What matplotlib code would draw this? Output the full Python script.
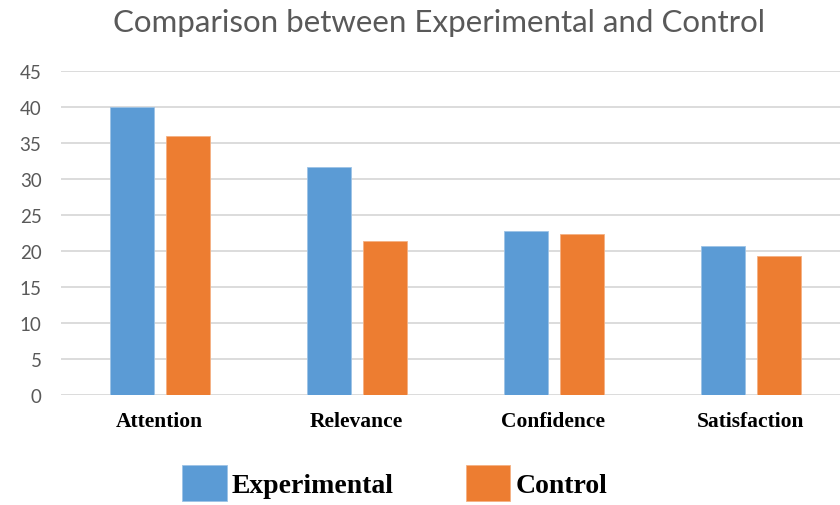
import numpy as np
import matplotlib
matplotlib.use('Agg')
import matplotlib.pyplot as plt

# datos
categorias = ['Attention', 'Relevance', 'Confidence', 'Satisfaction']
experimental = [40.0, 31.7, 22.8, 20.8]
control = [36.0, 21.5, 22.4, 19.3]

azul = '#5B9BD5'
naranja = '#ED7D31'

fig = plt.figure(figsize=(8.4, 5.06), dpi=100)
ax = fig.add_axes([61/840, 109.7/506, 788/840, 324/506])

x = np.arange(len(categorias))
ancho = 0.226
ax.bar(x - 0.14, experimental, ancho, color=azul, edgecolor='#9DC3E6', linewidth=0.6,
       label='Experimental', zorder=3)
ax.bar(x + 0.145, control, ancho, color=naranja, edgecolor='#F4B183', linewidth=0.6,
       label='Control', zorder=3)

ax.set_xlim(-0.5, 3.5)
ax.set_ylim(0, 45)
ax.set_yticks(np.arange(0, 46, 5))
ax.yaxis.grid(True, color='#D9D9D9', linewidth=1.3, zorder=0)
for s in ax.spines.values():
    s.set_visible(False)
ax.tick_params(axis='both', length=0)
ax.tick_params(axis='y', labelsize=13.5, labelcolor='#595959', pad=14)
for t in ax.get_yticklabels():
    t.set_family('Lato')

ax.set_xticks(x)
ax.set_xticklabels(categorias, family='Liberation Serif', fontweight='bold', fontsize=15.5)
ax.tick_params(axis='x', pad=11)

fig.text(0.523, 0.955, 'Comparison between Experimental and Control', ha='center', va='center',
         family='Lato', fontsize=22.5, color='#595959')

fig.legend(loc='center', bbox_to_anchor=(0.470, 0.043), ncol=2, frameon=False,
           prop={'family': 'Liberation Serif', 'weight': 'bold', 'size': 20},
           handlelength=1.6, handleheight=1.6, handletextpad=0.18, columnspacing=2.6)

fig.savefig('out.png', dpi=100)
